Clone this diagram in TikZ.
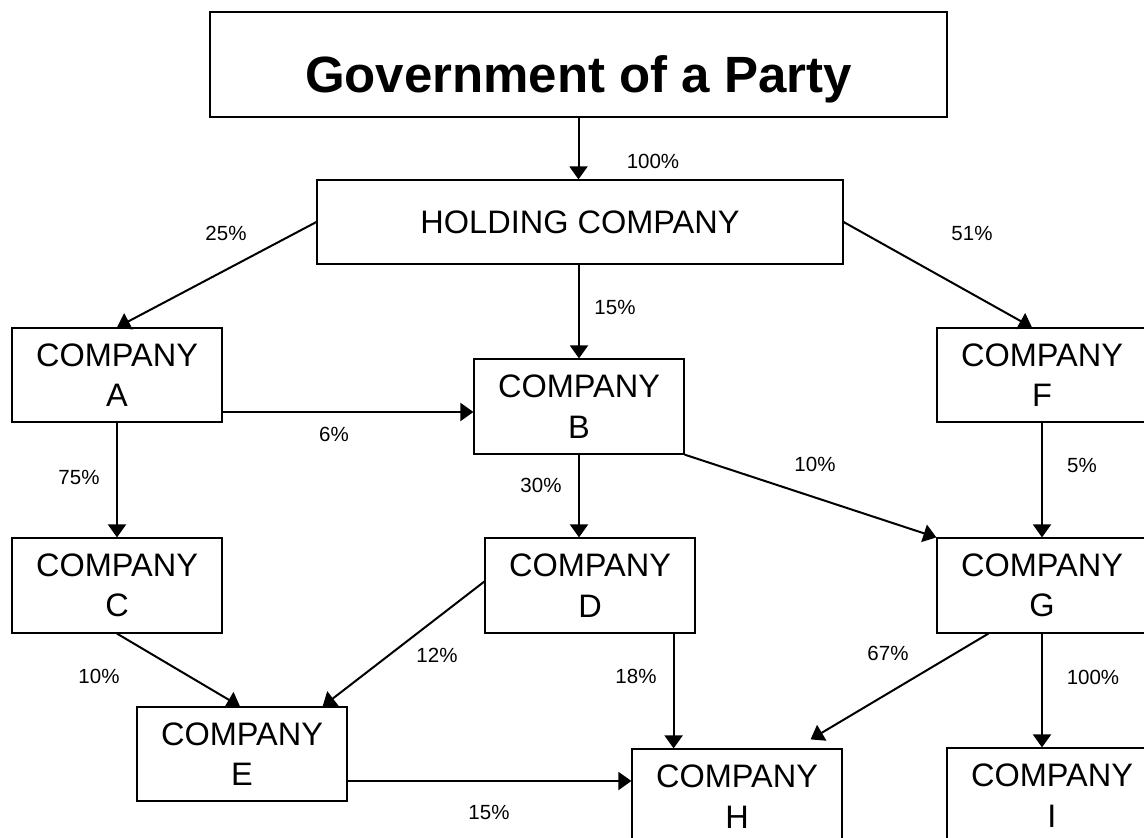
\documentclass[tikz,border=0pt]{standalone}
\usepackage{fontspec}
\setmainfont{Liberation Sans}
\usetikzlibrary{arrows.meta}
\begin{document}
\begin{tikzpicture}[x=1pt,y=-1pt,
  box/.style={draw, line width=1.2pt, rectangle, inner sep=0pt, minimum width=210pt, minimum height=95pt, align=center, font=\fontsize{32.5}{40.6}\selectfont},
  pct/.style={font=\fontsize{20.5}{24}\selectfont, inner sep=0pt},
  arr/.style={line width=2pt, -{Triangle[length=13pt,width=18pt]}}]
\useasboundingbox (0,0) rectangle (1144,838);
\fill[white] (0,0) rectangle (1144,838);
% boxes
\node[box, minimum width=737pt, minimum height=105pt, font=\fontsize{51}{60}\selectfont\bfseries, text height=55pt, text depth=0pt] (gov) at (578.5,64.5) {Government of a Party};
\node[box, minimum width=526pt, minimum height=84pt] (hold) at (580,222) {HOLDING COMPANY};
\node[box, minimum height=94pt] (A) at (117,375) {COMPANY\\A};
\node[box] (B) at (579,406.5) {COMPANY\\B};
\node[box, minimum height=94pt] (F) at (1042,375) {COMPANY\\F};
\node[box] (C) at (117,585.5) {COMPANY\\C};
\node[box] (D) at (590,585.5) {COMPANY\\D};
\node[box] (G) at (1042,585.5) {COMPANY\\G};
\node[box, minimum height=94pt] (E) at (242,754) {COMPANY\\E};
\node[box] (H) at (737,796.5) {COMPANY\\H};
\node[box] (I) at (1052,795.5) {COMPANY\\I};
% arrows
\draw[arr] (gov.south) -- (gov.south |- hold.north);
\draw[arr] (hold.west) -- (A.north);
\draw[arr] (hold.south -| B.north) -- (B.north);
\draw[arr] (hold.east) -- ([xshift=-10pt]F.north);
\draw[arr] ([yshift=-37pt]A.east) -- ([yshift=-37pt]A.east -| B.west);
\draw[arr] (A.south) -- (C.north);
\draw[arr] (B.south) -- (B.south |- D.north);
\draw[arr] (B.south east) -- (G.north west);
\draw[arr] (F.south) -- (G.north);
\draw[arr] (C.south) -- ([xshift=-2pt]E.north);
\draw[arr] ([yshift=4pt]D.west) -- ([xshift=-25pt]E.north east);
\draw[arr] ([xshift=-22pt]D.south east) -- ([xshift=-22pt]D.south east |- H.north);
\draw[arr] ([xshift=52pt]G.south west) -- ([xshift=-32pt,yshift=9pt]H.north east);
\draw[arr] (G.south) -- (G.south |- I.north);
\draw[arr] ([yshift=-27pt]E.east) -- ([yshift=-27pt]E.east -| H.west);
% labels
\node[pct] (l100a) at (653,161) {100\%};
\node[pct] (l25) at (226,233) {25\%};
\node[pct] (l15a) at (615,307) {15\%};
\node[pct] (l51) at (972,233) {51\%};
\node[pct] (l6) at (334,434) {6\%};
\node[pct] (l75) at (79,477) {75\%};
\node[pct] (l30) at (541,485) {30\%};
\node[pct] (l10a) at (815,464) {10\%};
\node[pct] (l5) at (1082,465) {5\%};
\node[pct] (l10b) at (99,676) {10\%};
\node[pct] (l12) at (437,655) {12\%};
\node[pct] (l18) at (636,676) {18\%};
\node[pct] (l67) at (888,653) {67\%};
\node[pct] (l100b) at (1093,677) {100\%};
\node[pct] (l15b) at (489,812) {15\%};
\end{tikzpicture}
\end{document}
